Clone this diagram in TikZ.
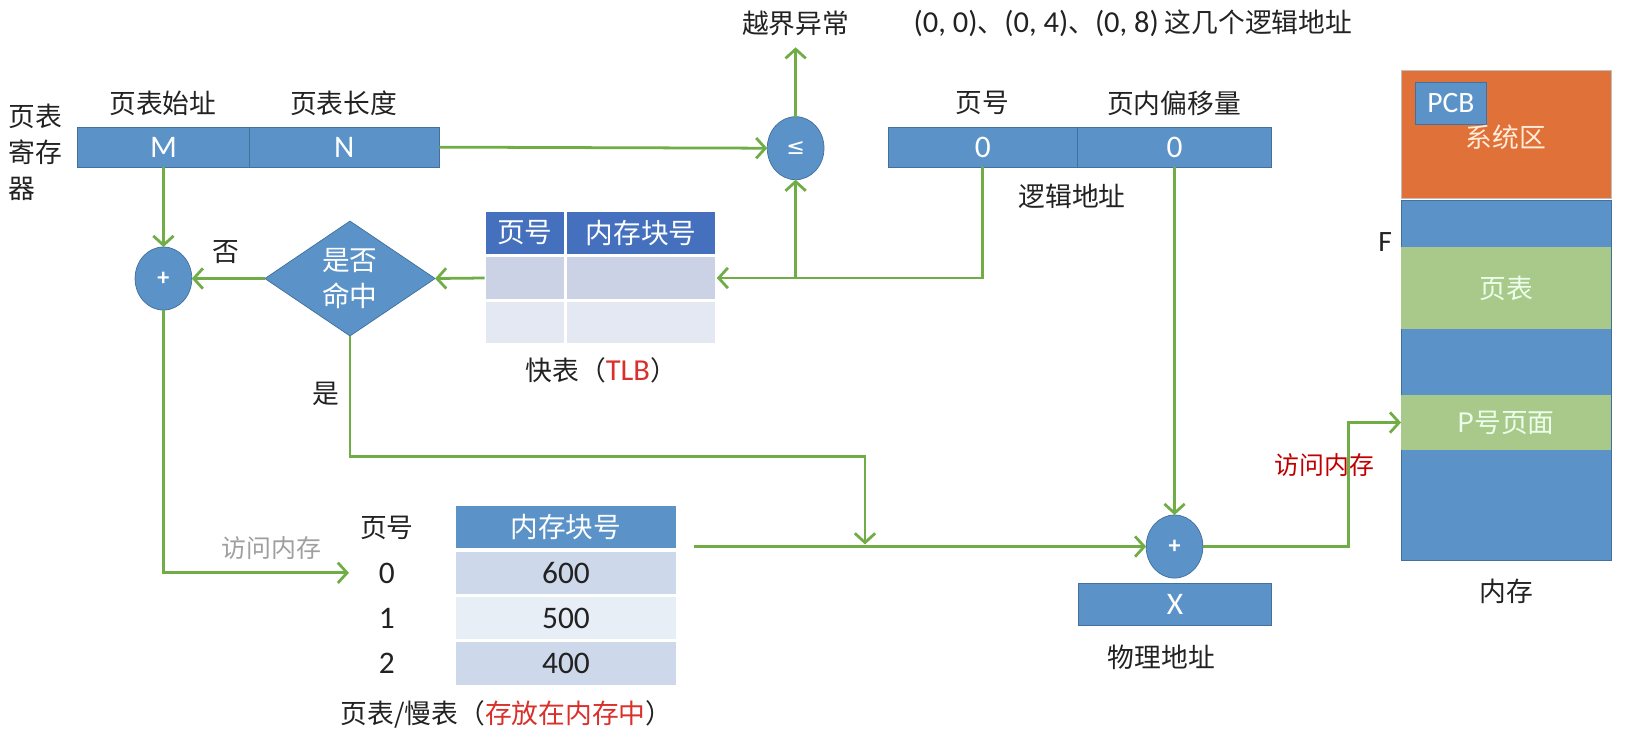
\documentclass[tikz,border=0pt]{standalone}
\usepackage{fontspec}
\setmainfont{Noto Sans CJK SC}
\newfontfamily\lat{Carlito}
\newfontfamily\dejavu{DejaVu Sans}
\usetikzlibrary{arrows.meta,shapes.geometric}
\definecolor{cblue}{HTML}{5B93C9}
\definecolor{cblueD}{HTML}{41719C}
\definecolor{tlbhead}{HTML}{4470BE}
\definecolor{tlbA}{HTML}{CBD2E6}
\definecolor{tlbB}{HTML}{E3E8F3}
\definecolor{ptA}{HTML}{CDD8EA}
\definecolor{ptB}{HTML}{E8EEF6}
\definecolor{cgreen}{HTML}{70AD47}
\definecolor{corange}{HTML}{E07139}
\definecolor{lgreen}{HTML}{A9C98A}
\definecolor{dred}{HTML}{C00000}
\definecolor{tred}{HTML}{D9302B}
\definecolor{ink}{HTML}{222222}
\tikzset{
  cell/.style={fill=cblue, draw=cblueD, line width=0.5pt, inner sep=0pt, outer sep=0pt, text=white, font=\lat\fontsize{17}{20}\selectfont},
  tcell/.style={draw=white, line width=1.6pt, inner sep=0pt, outer sep=0pt},
  op/.style={ellipse, fill=cblue, draw=cblueD, line width=0.4pt, minimum width=1.08cm, minimum height=1.2cm, inner sep=0pt, outer sep=0pt, text=white, font=\lat\bfseries\fontsize{13}{15}\selectfont},
  conn/.style={draw=cgreen, line width=1.5pt},
  arr/.style={conn, -{Straight Barb[length=5pt,width=11pt]}},
  lbl/.style={font=\fontsize{14.5}{17}\selectfont, text=ink, inner sep=0pt},
  memblk/.style={minimum width=4cm, inner sep=0pt, outer sep=0pt},
}
\begin{document}
\begin{tikzpicture}[x=0.02cm, y=-0.02cm]
\useasboundingbox (0,0) rectangle (1568,717);

% page table register
\node[cell, minimum width=3.26cm, minimum height=0.76cm] (M) at (155.5,140) {M};
\node[cell, minimum width=3.62cm, minimum height=0.76cm] (N) at (327.5,140) {N};
\node[lbl] (lM) at (155,98) {页表始址};
\node[lbl] (lN) at (327,98) {页表长度};
\node[lbl, font=\fontsize{14.5}{19.5}\selectfont, align=left, anchor=north west] (reg) at (8,99) {页表\\寄存\\器};

% compare
\node[op, font=\dejavu\fontsize{12}{14}\selectfont] (le) at (757,141) {≤};
\node[lbl] (exc) at (757,22) {越界异常};
\coordinate (excA) at (757,45);
\node[lbl] (addrs) at (1078,22) {{\lat\fontsize{16.5}{18}\selectfont (0, 0)}、{\lat\fontsize{16.5}{18}\selectfont (0, 4)}、{\lat\fontsize{16.5}{18}\selectfont (0, 8)} 这几个逻辑地址};

% logical address
\node[cell, minimum width=3.6cm, minimum height=0.76cm] (pg) at (935,140) {0};
\node[cell, minimum width=3.7cm, minimum height=0.76cm] (off) at (1117.5,140) {0};
\node[lbl] (lpg) at (935,98) {页号};
\node[lbl] (loff) at (1117,98) {页内偏移量};
\node[lbl] (la) at (1020,187) {逻辑地址};

% TLB
\node[tcell, fill=tlbhead, minimum width=1.54cm, minimum height=0.86cm, text=white, font=\fontsize{15}{17}\selectfont] (th1) at (499.5,221.5) {页号};
\node[tcell, fill=tlbhead, minimum width=2.88cm, minimum height=0.86cm, text=white, font=\fontsize{15}{17}\selectfont] (th2) at (610,221.5) {内存块号};
\node[tcell, fill=tlbA, minimum width=1.54cm, minimum height=0.86cm] (r1a) at (499.5,264.5) {};
\node[tcell, fill=tlbA, minimum width=2.88cm, minimum height=0.86cm] (r1b) at (610,264.5) {};
\node[tcell, fill=tlbB, minimum width=1.54cm, minimum height=0.84cm] (r2a) at (499.5,307) {};
\node[tcell, fill=tlbB, minimum width=2.88cm, minimum height=0.84cm] (r2b) at (610,307) {};
\node[lbl] (tlbcap) at (572,352) {快表（{\lat\fontsize{16.5}{18}\selectfont\color{tred}TLB}）};

% decision
\node[diamond, fill=cblue, draw=cblueD, line width=0.4pt, minimum width=3.24cm, minimum height=2.16cm, inner sep=0pt, outer sep=0pt, text=white, align=center, font=\fontsize{15}{19}\selectfont] (dm) at (333,265) {是否\\命中};
\node[op] (p1) at (155.5,265) {+};
\node[lbl] (no) at (215,240) {否};
\node[lbl] (yes) at (310,375) {是};

% page table (slow)
\node[lbl] (pth) at (368,502) {页号};
\node[font=\lat\fontsize{17}{20}\selectfont, text=ink] (n0) at (368,546) {0};
\node[font=\lat\fontsize{17}{20}\selectfont, text=ink] (n1) at (368,588.5) {1};
\node[font=\lat\fontsize{17}{20}\selectfont, text=ink] (n2) at (368,631.5) {2};
\node[tcell, fill=cblue, minimum width=4.26cm, minimum height=0.86cm, text=white, font=\fontsize{15}{17}\selectfont] (ph) at (538.5,501.5) {内存块号};
\node[tcell, fill=ptA, minimum width=4.26cm, minimum height=0.87cm, text=ink, font=\lat\fontsize{17}{20}\selectfont] (pr0) at (538.5,545.5) {600};
\node[tcell, fill=ptB, minimum width=4.26cm, minimum height=0.87cm, text=ink, font=\lat\fontsize{17}{20}\selectfont] (pr1) at (538.5,588.5) {500};
\node[tcell, fill=ptA, minimum width=4.26cm, minimum height=0.87cm, text=ink, font=\lat\fontsize{17}{20}\selectfont] (pr2) at (538.5,631.5) {400};
\node[lbl] (ptcap) at (482,680) {页表/慢表（\textcolor{tred}{存放在内存中}）};
\node[lbl, text=gray!75, font=\fontsize{13.5}{16}\selectfont] (acc1) at (258,521) {访问内存};

% physical address
\node[op] (p2) at (1117.5,520) {+};
\node[cell, minimum width=3.68cm, minimum height=0.8cm] (X) at (1118,575) {X};
\node[lbl] (pa) at (1105,625) {物理地址};

% memory
\node[memblk, fill=corange, draw=gray!50, line width=0.4pt, minimum height=2.44cm] (sys) at (1433,128) {};
\node[cell, font=\lat\fontsize{16}{18}\selectfont, minimum width=1.34cm, minimum height=0.8cm] (pcb) at (1380.5,98) {PCB};
\node[lbl, text=orange!15!white] (sysl) at (1433,131) {系统区};
\node[memblk, fill=cblue, draw=cblueD, line width=0.4pt, minimum height=6.84cm] (mem) at (1433,362) {};
\node[memblk, fill=lgreen, minimum height=1.56cm, text=green!8!white, font=\fontsize{14.5}{17}\selectfont] (ptm) at (1433,274) {页表};
\node[memblk, fill=lgreen, minimum height=1.04cm, text=green!8!white, font=\fontsize{14.5}{17}\selectfont] (pp) at (1433,402) {P号页面};
\node[font=\lat\fontsize{16}{18}\selectfont, text=ink] (F) at (1318,230) {F};
\node[lbl] (meml) at (1433,563) {内存};
\node[lbl, text=dred, font=\fontsize{13.5}{16}\selectfont] (acc2) at (1260,442) {访问内存};

% connectors
\draw[arr] (N.east) -- (le.west);
\draw[arr] (le.north) -- (excA);
\draw[arr] (pg.south) |- (r1b.east);
\draw[arr] (le.south |- r1b.east) -- (le.south);
\draw[arr] (r1a.west) -- (dm.east);
\draw[arr] (dm.west) -- (p1.east);
\draw[arr] (M.south) -- (p1.north);
\coordinate (vA) at (332,545);
\draw[arr] (p1.south) |- (vA);
\coordinate (yk) at (823,434);
\coordinate (ye) at (823,518);
\draw[arr] (dm.south) |- (yk) -- (ye);
\coordinate (ptout) at (660,520);
\draw[arr] (ptout) -- (p2.west);
\draw[arr] (off.south) -- (p2.north);
\coordinate (mc) at (1283,520);
\draw[arr] (p2.east) -- (mc) |- (pp.west);
\end{tikzpicture}
\end{document}
